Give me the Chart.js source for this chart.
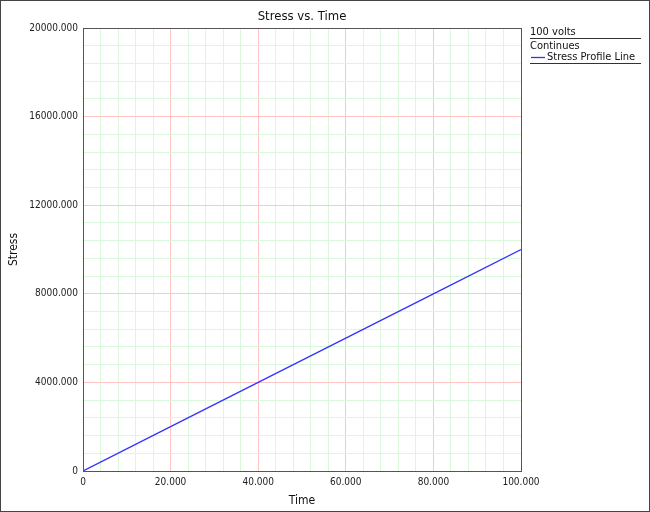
<!DOCTYPE html>
<html>
<head>
<meta charset="utf-8">
<script src="https://cdn.jsdelivr.net/npm/chart.js@4"></script>
<style>
  body { margin: 0; background: #fff; }
  canvas { display: block; }
</style>
</head>
<body>
<canvas id="stressChart" width="650" height="512"></canvas>
<script>
// data
const timeValues = [0, 20, 40, 60, 80, 100];
const stressValues = [0, 2000, 4000, 6000, 8000, 10000];
const xTickMajor = [20, 40, 60, 80, 100];
const yTickMajor = [4000, 8000, 12000, 16000, 20000];
const legendTitle = '100 volts';
const legendGroup = 'Continues';
const seriesName = 'Stress Profile Line';

const FONT = '"DejaVu Sans Condensed", "Liberation Sans", sans-serif';
const MAJOR = '#ffc4c4';
const MINOR = '#dcf8dc';
const FRAME = '#555555';

function gridColor(majors, max) {
  return c => {
    const v = c.tick ? c.tick.value : null;
    if (v === 0 || v === max) return FRAME;
    return majors.includes(v) ? MAJOR : MINOR;
  };
}

// title, legend, frame are drawn by hand like the original
const extras = {
  id: 'extras',
  afterDraw(chart) {
    const ctx = chart.ctx;
    const a = chart.chartArea;
    ctx.save();
    // plot border
    ctx.strokeStyle = FRAME;
    ctx.lineWidth = 1;
    ctx.strokeRect(Math.round(a.left) + 0.5, Math.round(a.top) + 0.5,
      Math.round(a.right - a.left), Math.round(a.bottom - a.top));
    // outer border
    ctx.strokeStyle = '#444';
    ctx.strokeRect(0.5, 0.5, chart.width - 1, chart.height - 1);

    // title
    ctx.fillStyle = '#111';
    ctx.font = '13px ' + FONT;
    ctx.textAlign = 'center';
    ctx.textBaseline = 'middle';
    ctx.fillText('Stress vs. Time', (a.left + a.right) / 2, 17);

    // legend
    const lx = 530;
    ctx.font = '11px ' + FONT;
    ctx.textAlign = 'left';
    ctx.fillText(legendTitle, lx, 32);
    ctx.fillText(legendGroup, lx, 46.5);
    ctx.fillText(seriesName, lx + 17, 57.5);
    ctx.strokeStyle = '#333';
    ctx.beginPath();
    ctx.moveTo(lx, 38.5); ctx.lineTo(641, 38.5);
    ctx.moveTo(lx, 63.5); ctx.lineTo(641, 63.5);
    ctx.stroke();
    ctx.strokeStyle = '#3333ff';
    ctx.lineWidth = 1.3;
    ctx.beginPath();
    ctx.moveTo(lx + 1, 57.5); ctx.lineTo(lx + 15, 57.5);
    ctx.stroke();
    ctx.restore();
  }
};

const points = timeValues.map((t, i) => ({ x: t, y: stressValues[i] }));

new Chart(document.getElementById('stressChart').getContext('2d'), {
  type: 'line',
  data: {
    datasets: [{
      label: seriesName,
      data: points,
      borderColor: '#3333ff',
      borderWidth: 1.3,
      pointRadius: 0,
      tension: 0
    }]
  },
  options: {
    responsive: false,
    animation: false,
    devicePixelRatio: 1,
    layout: { padding: { top: 28, right: 129, left: 0, bottom: 0 } },
    plugins: {
      legend: { display: false },
      title: { display: false },
      tooltip: { enabled: false }
    },
    scales: {
      x: {
        type: 'linear',
        min: 0,
        max: 100,
        afterFit(s) { s.height = 41; },
        ticks: {
          stepSize: 4,
          autoSkip: false,
          maxRotation: 0,
          padding: 5,
          color: '#222',
          font: { size: 10, family: FONT },
          callback: v => v === 0 ? '0' : (xTickMajor.includes(v) ? v.toFixed(3) : '')
        },
        grid: { color: gridColor(xTickMajor, 100), drawTicks: false },
        border: { display: false },
        title: {
          display: true,
          text: 'Time',
          color: '#111',
          font: { size: 12, family: FONT },
          padding: { top: 9 }
        }
      },
      y: {
        type: 'linear',
        min: 0,
        max: 20000,
        afterFit(s) { s.width = 83; },
        ticks: {
          stepSize: 800,
          autoSkip: false,
          padding: 5,
          color: '#222',
          font: { size: 10, family: FONT },
          callback: v => v === 0 ? '0' : (yTickMajor.includes(v) ? v.toFixed(3) : '')
        },
        grid: { color: gridColor(yTickMajor, 20000), drawTicks: false },
        border: { display: false },
        title: {
          display: true,
          text: 'Stress',
          color: '#111',
          font: { size: 12, family: FONT },
          padding: { top: 7, bottom: 0 }
        }
      }
    }
  },
  plugins: [extras]
});
</script>
</body>
</html>
